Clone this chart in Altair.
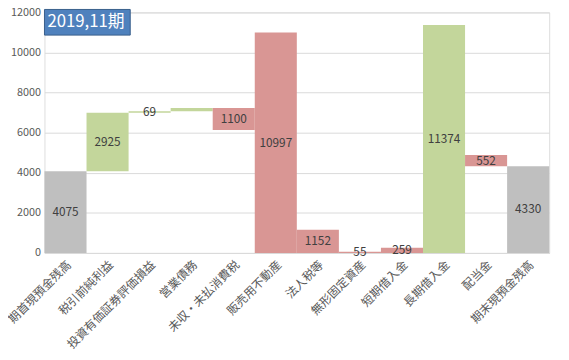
import altair as alt
import pandas as pd

title_text = "2019,11期"
categories = ["期首現預金残高", "税引前純利益", "投資有価証券評価損益", "営業債務", "未収・未払消費税",
              "販売用不動産", "法人税等", "無形固定資産", "短期借入金", "長期借入金", "配当金", "期末現預金残高"]
bases = [0, 4075, 7000, 7069, 6134, 0, 0, 0, 0, 0, 4330, 0]
amounts = [4075, 2925, 69, 165, 1100, 10997, 1152, 55, 259, 11374, 552, 4330]
kinds = ["total", "up", "up", "up", "down", "down", "down", "down", "down", "up", "down", "total"]
labels = ["4075", "2925", "69", "", "1100", "10997", "1152", "55", "259", "11374", "552", "4330"]
y_ticks = [0, 2000, 4000, 6000, 8000, 10000, 12000]

df = pd.DataFrame({
    "category": categories,
    "base": bases,
    "amount": amounts,
    "kind": kinds,
    "label": labels,
})
df["top"] = df["base"] + df["amount"]
df["mid"] = df["base"] + df["amount"] / 2

FONT = "Noto Sans CJK JP"

base = alt.Chart(df).encode(
    x=alt.X("category:N", sort=categories,
            scale=alt.Scale(paddingInner=0, paddingOuter=0),
            axis=alt.Axis(title=None, labelAngle=-45, ticks=False, labelPadding=6,
                          labelFontSize=12, labelColor="#595959", labelFont=FONT,
                          domainColor="#D9D9D9", grid=False))
)

bars = base.mark_bar().encode(
    y=alt.Y("base:Q", scale=alt.Scale(domain=[0, 12000], nice=False),
            axis=alt.Axis(title=None, values=y_ticks, ticks=False, domain=False,
                          labelPadding=4, labelFontSize=11, labelColor="#595959",
                          labelFont=FONT, gridColor="#D9D9D9", format="d")),
    y2="top:Q",
    color=alt.Color("kind:N", scale=alt.Scale(domain=["total", "up", "down"],
                                              range=["#BFBFBF", "#C3D69B", "#D99694"]),
                    legend=None),
)

text = base.mark_text(fontSize=12, color="#404040", font=FONT).encode(
    y=alt.Y("mid:Q"),
    text="label:N",
)

tdf = pd.DataFrame({"t": [title_text]})
title_box = alt.Chart(tdf).mark_rect(fill="#4F81BD", stroke="#385D8A", strokeWidth=1).encode(
    x=alt.value(0), x2=alt.value(87), y=alt.value(-3), y2=alt.value(23))
title_lbl = alt.Chart(tdf).mark_text(align="left", baseline="middle", fontSize=17,
                                     color="white", font=FONT).encode(
    x=alt.value(3), y=alt.value(10), text="t:N")

chart = alt.layer(bars, text, title_box, title_lbl).properties(
    width=512, height=244,
    autosize=alt.AutoSizeParams(type="none"),
    padding={"left": 37, "top": 2, "right": 12, "bottom": 98},
).configure_view(stroke=None).configure(background="white")

chart.save("out.html", embed_options={"renderer": "svg", "actions": False})
